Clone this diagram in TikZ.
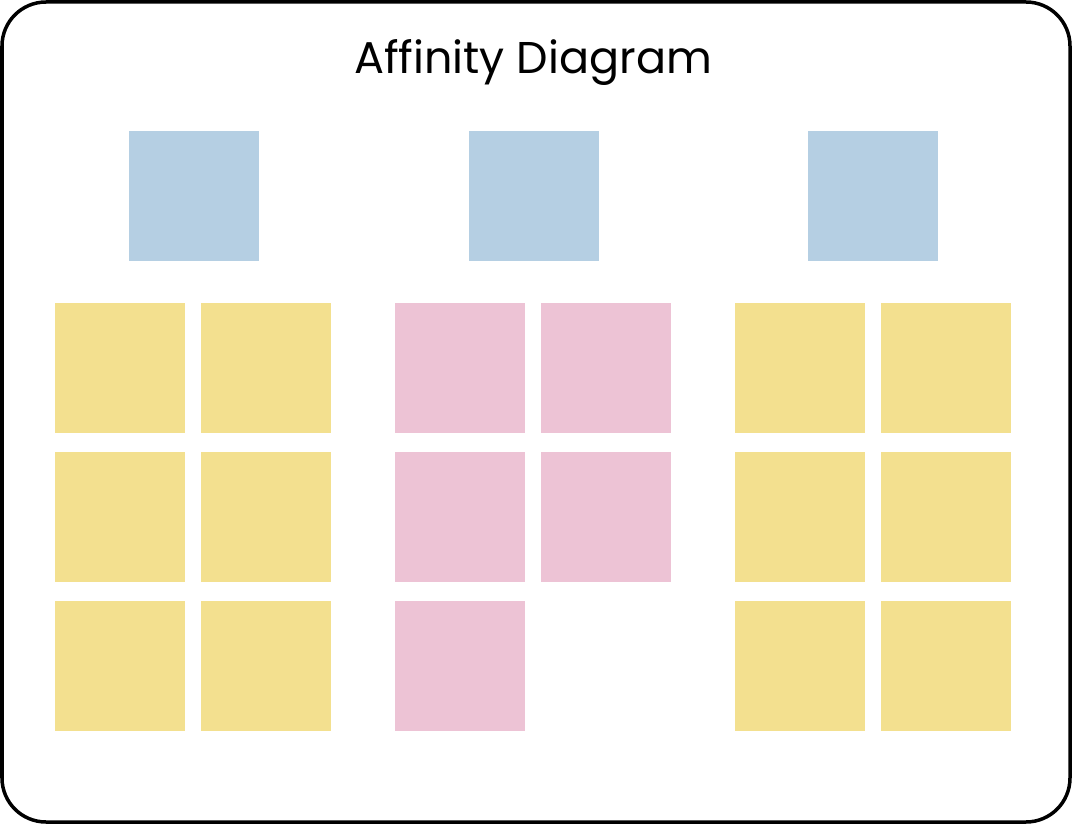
\documentclass[tikz,border=0pt]{standalone}
\usepackage{fontspec}
\setmainfont{Poppins}
\usetikzlibrary{positioning}

\definecolor{headblue}{RGB}{181,207,227}
\definecolor{noteyellow}{RGB}{243,224,143}
\definecolor{notepink}{RGB}{237,195,213}

\tikzstyle{note} = [rectangle, minimum size=130pt, inner sep=0pt, outer sep=0pt]
\tikzstyle{header} = [note, fill=headblue]
\tikzstyle{yellow} = [note, fill=noteyellow]
\tikzstyle{pink} = [note, fill=notepink]
\tikzstyle{board} = [draw, line width=3.5pt, rounded corners=44pt]

\begin{document}
\begin{tikzpicture}[x=1pt, y=-1pt, node distance=16pt and 16pt]
    \useasboundingbox (0,0) rectangle (1072,824);
    \draw [board] (2,2) rectangle (1070,822);
    \node [name=title] at (533,63) {\fontsize{44.5}{54}\selectfont Affinity Diagram};

    \node [header] (headA) at (194,196) {};
    \node [header] (headB) at (533.5,196) {};
    \node [header] (headC) at (873,196) {};

    % left group
    \node [yellow] (la1) at (120,368) {};
    \node [yellow, right=of la1] (lb1) {};
    \node [yellow, below=19pt of la1] (la2) {};
    \node [yellow, right=of la2] (lb2) {};
    \node [yellow, below=19pt of la2] (la3) {};
    \node [yellow, right=of la3] (lb3) {};

    % middle group
    \node [pink] (ma1) at (460,368) {};
    \node [pink, right=of ma1] (mb1) {};
    \node [pink, below=19pt of ma1] (ma2) {};
    \node [pink, right=of ma2] (mb2) {};
    \node [pink, below=19pt of ma2] (ma3) {};

    % right group
    \node [yellow] (ra1) at (800,368) {};
    \node [yellow, right=of ra1] (rb1) {};
    \node [yellow, below=19pt of ra1] (ra2) {};
    \node [yellow, right=of ra2] (rb2) {};
    \node [yellow, below=19pt of ra2] (ra3) {};
    \node [yellow, right=of ra3] (rb3) {};
\end{tikzpicture}
\end{document}
